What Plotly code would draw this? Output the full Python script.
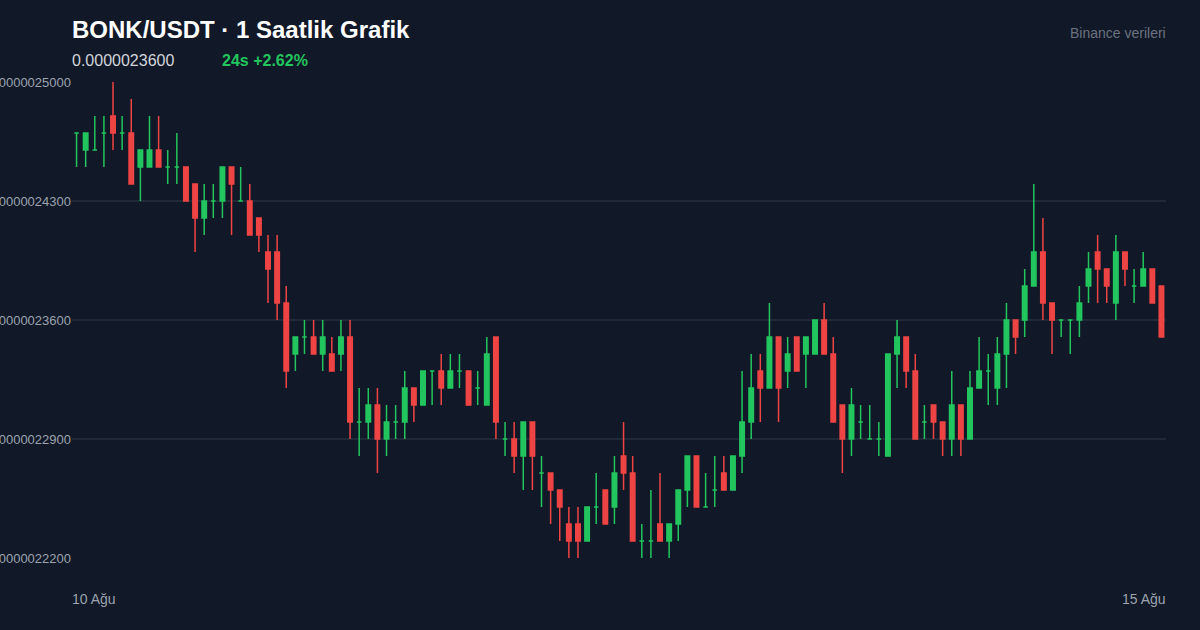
import pandas as pd
import plotly.graph_objects as go

# prices in units of 1e-8 USDT, hourly candles from 10 Aug
opens = [247, 246, 246, 247, 248, 247, 247, 245, 245, 246, 245, 245, 245, 244, 242, 243, 243, 245, 243, 243,
         242, 240, 240, 237, 234, 235, 235, 234, 234, 234, 235, 230, 230, 231, 229, 230, 230, 232, 231, 233,
         233, 232, 233, 233, 232, 231, 235, 229, 229, 228, 230, 227, 227, 226, 224, 224, 223, 225, 226, 225,
         228, 227, 223, 223, 224, 223, 224, 226, 228, 225, 226, 227, 226, 228, 230, 233, 232, 235, 233, 235,
         234, 234, 236, 234, 231, 229, 230, 229, 229, 228, 234, 235, 233, 230, 231, 230, 229, 231, 229, 232,
         233, 232, 234, 236, 236, 238, 240, 237, 236, 236, 236, 238, 240, 239, 237, 240, 238, 238, 239, 238]
closes = [247, 247, 246, 247, 247, 247, 244, 246, 246, 245, 245, 245, 243, 242, 243, 243, 245, 244, 243, 241,
          241, 239, 237, 233, 235, 235, 234, 235, 233, 235, 230, 230, 231, 229, 230, 230, 232, 231, 233, 233,
          232, 233, 233, 231, 232, 234, 230, 229, 228, 230, 228, 227, 226, 225, 223, 223, 225, 225, 224, 227,
          227, 223, 223, 223, 223, 224, 226, 228, 225, 225, 226, 226, 228, 230, 232, 232, 235, 232, 234, 233,
          235, 236, 234, 230, 229, 231, 230, 229, 229, 234, 235, 233, 229, 230, 230, 229, 231, 229, 232, 233,
          233, 234, 236, 235, 238, 240, 237, 236, 236, 236, 237, 239, 239, 238, 240, 239, 238, 239, 237, 235]
highs = [247, 247, 248, 248, 250, 248, 249, 246, 248, 248, 246, 247, 245, 244, 244, 244, 245, 245, 245, 244,
         242, 241, 241, 238, 235, 236, 236, 236, 235, 236, 236, 232, 232, 232, 231, 231, 233, 232, 233, 233,
         234, 234, 234, 233, 233, 235, 235, 230, 230, 230, 230, 228, 227, 226, 225, 225, 225, 227, 226, 228,
         230, 228, 224, 226, 227, 224, 226, 228, 228, 227, 228, 228, 228, 233, 234, 234, 237, 235, 235, 235,
         235, 236, 237, 235, 231, 232, 231, 231, 230, 234, 236, 235, 234, 231, 231, 230, 233, 231, 233, 235,
         234, 235, 237, 236, 239, 244, 242, 237, 236, 236, 238, 240, 241, 239, 241, 240, 239, 240, 239, 238]
lows = [245, 245, 246, 245, 246, 246, 244, 243, 245, 245, 244, 244, 243, 240, 241, 242, 242, 241, 243, 241,
        240, 237, 236, 232, 233, 234, 234, 233, 233, 233, 229, 228, 229, 227, 228, 229, 229, 230, 231, 231,
        231, 232, 232, 231, 231, 231, 229, 228, 227, 226, 226, 225, 224, 223, 222, 222, 223, 224, 224, 224,
        226, 223, 222, 222, 223, 222, 223, 225, 225, 225, 225, 226, 226, 227, 229, 230, 232, 230, 232, 233,
        232, 234, 234, 230, 227, 228, 229, 229, 228, 228, 232, 232, 229, 229, 229, 228, 228, 228, 229, 232,
        231, 231, 232, 234, 235, 238, 236, 234, 235, 234, 235, 237, 237, 237, 236, 238, 237, 238, 237, 235]

y_ticks = [222, 229, 236, 243, 250]
UNIT = 1e-8
GREEN = "#22c55e"
RED = "#ef4444"
BG = "#111827"

times = pd.date_range("2024-08-10 00:00", periods=len(opens), freq="h")
df = pd.DataFrame({"t": times, "o": opens, "h": highs, "l": lows, "c": closes})
for col in "ohlc":
    df[col] = df[col] * UNIT

up = df[df.c >= df.o]
down = df[df.c < df.o]


def candles(part, color):
    return go.Candlestick(
        x=part.t, open=part.o, high=part.h, low=part.l, close=part.c,
        increasing=dict(line=dict(color=color, width=1.5), fillcolor=color),
        decreasing=dict(line=dict(color=color, width=1.5), fillcolor=color),
        whiskerwidth=0, showlegend=False, hoverinfo="skip")


fig = go.Figure([candles(up, GREEN), candles(down, RED)])

L, R, T, B = 72, 1166, 82, 558
W = R - L
H = B - T


def px(x, y):
    return (x - L) / W, (B - y) / H


annots = [
    ("BONK/USDT · 1 Saatlik Grafik", 70, 30, 24, "#ffffff", "left", True),
    ("0.0000023600", 70, 61, 16, "#d1d5db", "left", False),
    ("24s +2.62%", 220, 61, 16, GREEN, "left", True),
    ("Binance verileri", 1168, 33, 14, "#6b7280", "right", False),
    ("10 Ağu", 70, 599, 14, "#9ca3af", "left", False),
    ("15 Ağu", 1168, 599, 14, "#9ca3af", "right", False),
]
for text, x, y, size, color, anchor, bold in annots:
    ax, ay = px(x, y)
    fig.add_annotation(x=ax, y=ay, xref="paper", yref="paper", showarrow=False,
                       text=f"<b>{text}</b>" if bold else text, xanchor=anchor, yanchor="middle",
                       font=dict(size=size, color=color))

half = pd.Timedelta(minutes=30)
fig.update_layout(
    width=1200, height=630, paper_bgcolor=BG, plot_bgcolor=BG,
    margin=dict(l=L, r=1200 - R, t=T, b=630 - B, autoexpand=False),
    font=dict(family="Liberation Sans, Arial, sans-serif", color="#9ca3af"),
    xaxis=dict(range=[times[0] - half, times[-1] + half], showgrid=False, showticklabels=False,
               zeroline=False, rangeslider=dict(visible=False), fixedrange=True),
    yaxis=dict(range=[222 * UNIT, 250 * UNIT], tickvals=[v * UNIT for v in y_ticks],
               ticktext=[f"{v * UNIT:.10f}" for v in y_ticks], gridcolor="#1f2937", gridwidth=1.5,
               zeroline=False, tickfont=dict(size=13, color="#9ca3af"), ticklen=0, ticks="",
               showline=False, automargin=False),
)

fig.write_html("out.html", config={"displayModeBar": False}, post_script=(
    "document.body.style.margin='0';document.body.style.background='#111827';"))
